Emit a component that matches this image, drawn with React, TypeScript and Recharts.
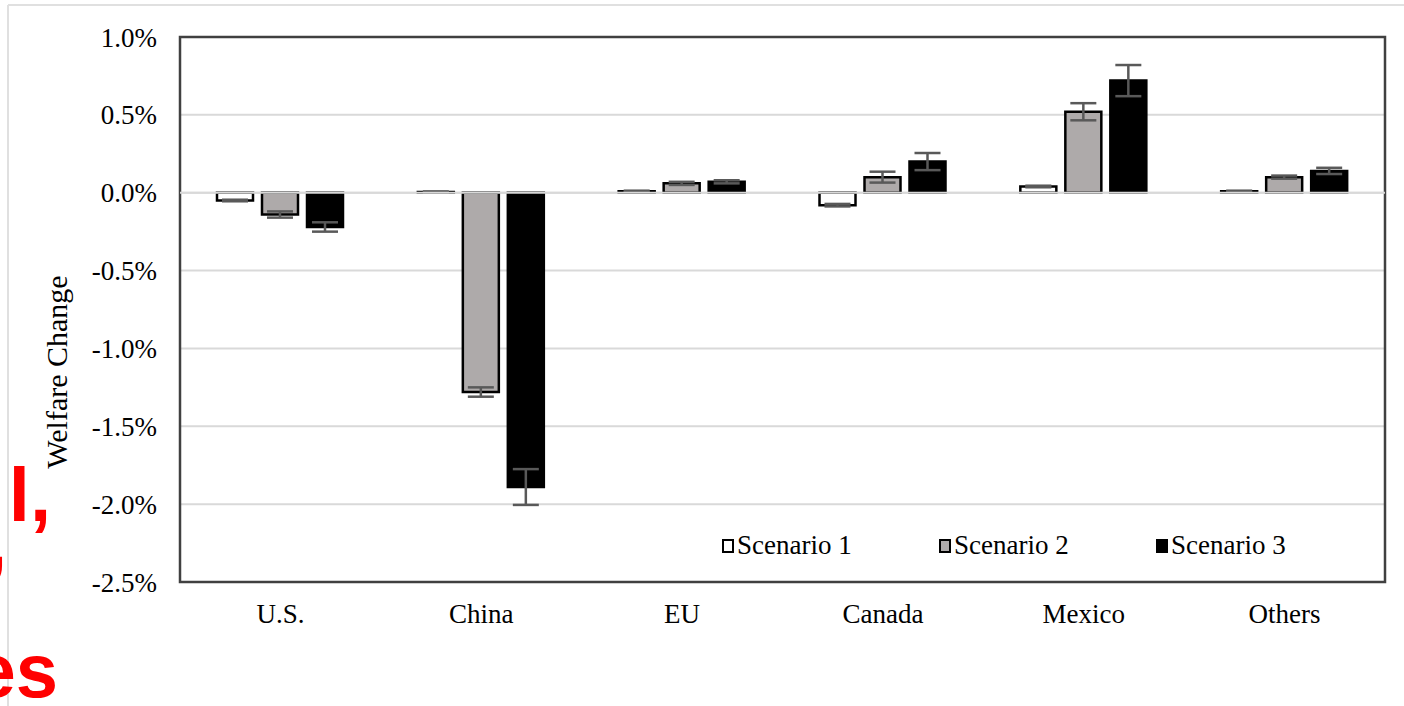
import React from 'react';
import {
  BarChart,
  Bar,
  XAxis,
  YAxis,
  CartesianGrid,
  ErrorBar,
  ReferenceLine,
  ReferenceArea,
  Legend,
} from 'recharts';

// Welfare change by region (percent), three tariff scenarios with error ranges
const categories = ['U.S.', 'China', 'EU', 'Canada', 'Mexico', 'Others'];
const scenario1 = [-0.05, 0.005, 0.01, -0.08, 0.04, 0.01];
const scenario1Err = [0.005, 0.003, 0.003, 0.008, 0.005, 0.003];
const scenario2 = [-0.14, -1.28, 0.06, 0.1, 0.52, 0.1];
const scenario2Err = [0.02, 0.03, 0.01, 0.035, 0.055, 0.01];
const scenario3 = [-0.22, -1.89, 0.07, 0.2, 0.72, 0.14];
const scenario3Err = [0.03, 0.115, 0.01, 0.055, 0.1, 0.02];
const yTicks = [-2.5, -2.0, -1.5, -1.0, -0.5, 0.0, 0.5, 1.0];
const seriesNames = ['Scenario 1', 'Scenario 2', 'Scenario 3'];
const seriesFills = ['#FFFFFF', '#AEAAAA', '#000000'];

const data = categories.map((name, i) => ({
  name,
  s1: scenario1[i],
  s1Err: scenario1Err[i],
  s2: scenario2[i],
  s2Err: scenario2Err[i],
  s3: scenario3[i],
  s3Err: scenario3Err[i],
}));

const SERIF = '"Liberation Serif", "Times New Roman", serif';
const GRID = '#D9D9D9';
const ERR = '#595959';

const LegendContent = () => (
  <div style={{ display: 'flex', alignItems: 'center', fontFamily: SERIF, fontSize: 27, color: '#000' }}>
    {seriesNames.map((n, i) => (
      <div key={n} style={{ display: 'flex', alignItems: 'center', width: i < 2 ? 217 : 'auto' }}>
        <span
          style={{
            display: 'inline-block',
            width: 12,
            height: 14,
            boxSizing: 'border-box',
            border: '2px solid #000',
            background: seriesFills[i],
            marginRight: 3,
          }}
        />
        <span style={{ whiteSpace: 'nowrap' }}>{n}</span>
      </div>
    ))}
  </div>
);

const AxisTitle = () => (
  <text
    x={67}
    y={372}
    transform="rotate(-90 67 372)"
    textAnchor="middle"
    fontFamily={SERIF}
    fontSize={30}
    fill="#000"
  >
    Welfare Change
  </text>
);

export default function App() {
  return (
    <div style={{ position: 'absolute', left: 0, top: 0, width: 1404, height: 706, background: '#fff', overflow: 'hidden' }}>
      <svg width={1404} height={706} style={{ position: 'absolute', left: 0, top: 0 }}>
        <line x1={8} y1={5} x2={1404} y2={5} stroke="#E0E0E0" strokeWidth={2} />
        <line x1={8} y1={5} x2={8} y2={706} stroke="#E0E0E0" strokeWidth={2} />
        <g fontFamily='"Liberation Sans", Arial, sans-serif' fontWeight="bold" fontSize={76} fill="#FF0000">
          <text x={51} y={521} textAnchor="end">l,</text>
          <text x={7} y={568} textAnchor="end">,</text>
          <text x={58} y={697} textAnchor="end">es</text>
        </g>
      </svg>
      <div style={{ position: 'absolute', left: 0, top: 0 }}>
        <BarChart
          width={1404}
          height={706}
          data={data}
          margin={{ top: 37, right: 19, bottom: 64, left: 20 }}
          barSize={36}
          barGap={9}
        >
          <CartesianGrid vertical={false} stroke={GRID} strokeWidth={2} />
          <XAxis
            dataKey="name"
            interval={0}
            axisLine={false}
            tickLine={false}
            tickSize={0}
            tickMargin={22}
            height={60}
            tick={{ fill: '#000', fontSize: 27, fontFamily: SERIF }}
          />
          <YAxis
            width={160}
            domain={[-2.5, 1]}
            ticks={yTicks}
            allowDataOverflow
            axisLine={false}
            tickLine={false}
            tickSize={0}
            tickMargin={23}
            tickFormatter={(v: number) => `${v.toFixed(1)}%`}
            tick={{ fill: '#000', fontSize: 27, fontFamily: SERIF }}
            label={<AxisTitle />}
          />
          <Legend
            layout="horizontal"
            verticalAlign="middle"
            align="center"
            content={<LegendContent />}
            wrapperStyle={{ left: 722, top: 530, width: 'auto', height: 'auto' }}
          />
          <Bar dataKey="s1" name={seriesNames[0]} fill={seriesFills[0]} stroke="#000" strokeWidth={2.5} isAnimationActive={false}>
            <ErrorBar dataKey="s1Err" direction="y" width={13} stroke={ERR} strokeWidth={2.5} />
          </Bar>
          <Bar dataKey="s2" name={seriesNames[1]} fill={seriesFills[1]} stroke="#000" strokeWidth={2.5} isAnimationActive={false}>
            <ErrorBar dataKey="s2Err" direction="y" width={13} stroke={ERR} strokeWidth={2.5} />
          </Bar>
          <Bar dataKey="s3" name={seriesNames[2]} fill={seriesFills[2]} stroke="#000" strokeWidth={2.5} isAnimationActive={false}>
            <ErrorBar dataKey="s3Err" direction="y" width={13} stroke={ERR} strokeWidth={2.5} />
          </Bar>
          <ReferenceLine y={0} stroke={GRID} strokeWidth={2} />
          <ReferenceArea y1={-2.5} y2={1} fill="none" stroke="#404040" strokeWidth={2.5} />
        </BarChart>
      </div>
    </div>
  );
}
